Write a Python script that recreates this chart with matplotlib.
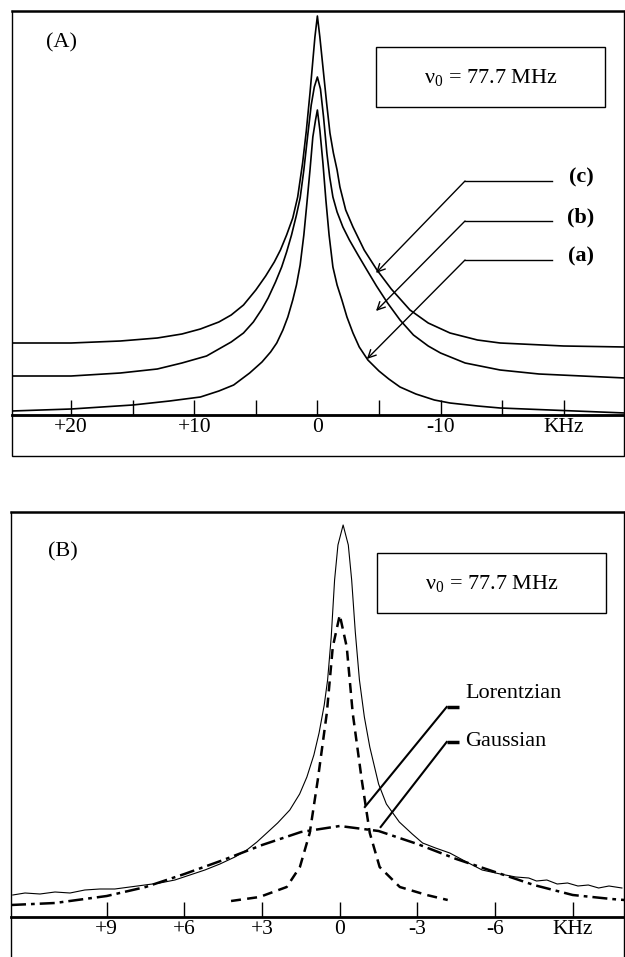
import matplotlib.pyplot as plt
from matplotlib.lines import Line2D

plt.rcParams['font.family'] = ['Liberation Serif', 'DejaVu Serif']
plt.rcParams['mathtext.fontset'] = 'custom'
plt.rcParams['mathtext.rm'] = 'Liberation Serif'

# ---- panel A: three spectra, kHz vs intensity (arbitrary units)
a_khz = [24.8, 20, 15, 12, 9.5, 8, 6.8, 5.5, 4.5, 3.8, 3.3, 2.8, 2.4, 2.0, 1.7, 1.4, 1.1,
         0.85, 0.6, 0.37, 0.15, 0.0,
         -0.2, -0.45, -0.69, -0.95, -1.26, -1.6, -1.99, -2.4, -2.89, -3.4, -4.1, -5.0,
         -5.8, -6.71, -8.0, -9.5, -10.77, -13, -14.84, -18.9, -25.0]
a_int = [4, 6, 10, 14, 18, 24, 30, 42, 53, 63, 72, 85, 98, 115, 130, 150, 180,
         212, 245, 278, 295, 305,
         285, 252, 215, 180, 148, 130, 115, 98, 82, 68, 55, 44,
         36, 28, 21, 15, 12, 9, 7, 5, 2]

b_khz = [24.8, 20, 16, 13, 11, 9, 8, 7, 6, 5.2, 4.5, 4.0, 3.4, 2.9, 2.5, 2.1, 1.7, 1.4,
         1.1, 0.8, 0.5, 0.25, 0.0,
         -0.25, -0.5, -0.77, -1.0, -1.26, -1.6, -2.07, -2.6, -3.3, -4.02, -4.8, -5.7,
         -6.71, -7.8, -9, -10, -12, -14.84, -18, -25.0]
b_int = [39, 39, 42, 46, 52, 59, 66, 73, 82, 93, 106, 117, 133, 148, 163, 180, 200, 217,
         245, 278, 310, 328, 338,
         326, 298, 262, 238, 218, 203, 188, 175, 160, 145, 129, 112,
         95, 80, 69, 62, 52, 45, 41, 37]

c_khz = [24.8, 20, 16, 13, 11, 9.5, 8, 7, 6, 5, 4.2, 3.5, 3.0, 2.5, 2.0, 1.6, 1.2,
         0.9, 0.6, 0.4, 0.2, 0.0,
         -0.2, -0.45, -0.75, -1.02, -1.3, -1.6, -1.83, -2.3, -2.89, -3.8, -4.84, -6.0,
         -7.52, -9.0, -10.77, -13, -14.84, -20, -25.0]
c_int = [72, 72, 74, 77, 81, 86, 93, 100, 110, 125, 139, 153, 165, 180, 197, 218, 252,
         284, 322, 350, 378, 399,
         378, 348, 312, 282, 262, 245, 228, 205, 188, 165, 145, 126,
         105, 92, 82, 75, 72, 69, 68]

a_ticks = [20, 15, 10, 5, 0, -5, -10, -15, -20]
a_labels = ['+20', '', '+10', '', '0', '', '-10', '', 'KHz']

# ---- panel B: experimental line, Lorentzian (dashed) and Gaussian (dash-dot)
exp_khz = [12.63, 12.16, 11.58, 11.0, 10.42, 9.85, 9.27, 8.69, 8.11, 7.53, 6.95, 6.37,
           5.79, 5.21, 4.63, 4.05, 3.59, 3.2, 2.82, 2.4, 1.93, 1.55, 1.27, 1.0, 0.8,
           0.6, 0.47, 0.33, 0.2, 0.07, -0.13, -0.33, -0.46, -0.6, -0.76, -0.95, -1.16,
           -1.5, -1.8, -2.3, -2.8, -3.2, -3.7, -4.25, -4.9, -5.5, -6.2, -6.8, -7.3,
           -7.6, -8.0, -8.4, -8.8, -9.2, -9.6, -10.0, -10.4, -10.9]
exp_int = [22, 24, 23, 25, 24, 27, 28, 28, 30, 32, 34, 37,
           42, 47, 53, 60, 67, 75, 84, 94, 107, 123, 140, 162, 184,
           212, 237, 280, 337, 372, 392, 372, 337, 285, 237, 200, 170,
           133, 113, 95, 83, 74, 69, 64, 55, 47, 43, 40, 39,
           36, 37, 33, 34, 31, 32, 29, 31, 29]

lor_khz = [4.2, 3.1, 2.05, 1.54, 1.16, 0.85, 0.5, 0.27, 0.0,
           -0.27, -0.5, -0.85, -1.16, -1.54, -2.32, -3.36, -4.17]
lor_int = [16, 20, 30, 50, 84, 137, 204, 270, 302,
           270, 204, 137, 84, 50, 30, 22, 17]

gau_khz = [12.7, 11.0, 9.0, 7.5, 6.0, 4.5, 3.0, 1.5, 0.0,
           -1.5, -3.0, -4.5, -6.0, -7.5, -9.0, -10.5, -11.0]
gau_int = [12, 14, 21, 30, 43, 57, 72, 85, 91,
           86, 73, 58, 45, 32, 22, 18, 17]

b_ticks = [9, 6, 3, 0, -3, -6, -9]
b_labels = ['+9', '+6', '+3', '0', '-3', '-6', 'KHz']

W, H = 625, 957
fig = plt.figure(figsize=(W / 100, H / 100), dpi=100)


def fx(px):
    return px / W


def fy(py):
    return 1 - py / H


def setup(ax, ticks, labels):
    for s in ax.spines.values():
        s.set_linewidth(1.0)
    ax.spines['top'].set_linewidth(1.8)
    ax.spines['bottom'].set_linewidth(2.0)
    ax.set_xticks(ticks)
    ax.set_xticklabels(labels, fontsize=15.5)
    ax.tick_params(axis='x', direction='in', length=11, width=1.0, pad=2)
    ax.set_yticks([])


def freq_box(x0, y0, x1, y1):
    fig.patches.append(plt.Rectangle((fx(x0), fy(y1)), fx(x1) - fx(x0), fy(y0) - fy(y1),
                                     transform=fig.transFigure, fill=False,
                                     ec='black', lw=1.0))
    fig.text(fx((x0 + x1) / 2), fy((y0 + y1) / 2), r'ν$\mathregular{_0}$ = 77.7 MHz',
             fontsize=16, ha='center', va='center')


# panel A
axA = fig.add_axes([fx(12), fy(415), fx(624) - fx(12), fy(11) - fy(415)])
for xs, ys in [(a_khz, a_int), (b_khz, b_int), (c_khz, c_int)]:
    axA.plot(xs, ys, color='black', lw=1.2)
axA.set_xlim(24.8, -24.9)
axA.set_ylim(0, 404)
setup(axA, a_ticks, a_labels)
axA.text(20.8, 372, '(A)', fontsize=16, ha='center', va='center')
freq_box(376, 47, 605, 107)

for lab, yline, tip in [('(c)', 234, (-4.76, 142)), ('(b)', 194, (-4.76, 104)),
                        ('(a)', 155, (-4.02, 56))]:
    axA.plot([-11.99, -19.07], [yline, yline], color='black', lw=1.0)
    axA.annotate('', xy=tip, xytext=(-11.99, yline),
                 arrowprops=dict(arrowstyle='->', lw=1.0, color='black',
                                 shrinkA=0, shrinkB=0, mutation_scale=14))
    axA.text(-21.4, yline + 4, lab, fontsize=16, fontweight='bold',
             ha='center', va='center')

fig.patches.append(plt.Rectangle((fx(12), fy(456)), fx(624) - fx(12), fy(415) - fy(456),
                                 transform=fig.transFigure, fill=False, ec='black', lw=1.0))

# panel B
axB = fig.add_axes([fx(11), fy(917), fx(624) - fx(11), fy(512) - fy(917)])
axB.plot(exp_khz, exp_int, color='black', lw=0.8)
axB.plot(lor_khz, lor_int, color='black', lw=1.8, ls=(0, (4, 2.5)))
axB.plot(gau_khz, gau_int, color='black', lw=1.8, ls=(0, (6, 2, 1.5, 2)))
axB.set_xlim(12.7, -10.98)
axB.set_ylim(0, 405)
setup(axB, b_ticks, b_labels)
axB.text(10.7, 365, '(B)', fontsize=16, ha='center', va='center')
freq_box(377, 553, 606, 613)

for lab, ybar, tip, ytxt in [('Lorentzian', 210, (-0.97, 110), 224),
                             ('Gaussian', 175, (-1.58, 90), 175)]:
    axB.plot([-4.13, -4.6], [ybar, ybar], color='black', lw=2.5, solid_capstyle='butt')
    axB.plot([-4.13, tip[0]], [ybar, tip[1]], color='black', lw=1.5)
    axB.text(-4.85, ytxt, lab, fontsize=16, ha='left', va='center')

for px in (11, 624):
    fig.add_artist(Line2D([fx(px), fx(px)], [0, fy(917)], transform=fig.transFigure,
                          color='black', lw=1.0))

fig.savefig('out.png', dpi=100)
